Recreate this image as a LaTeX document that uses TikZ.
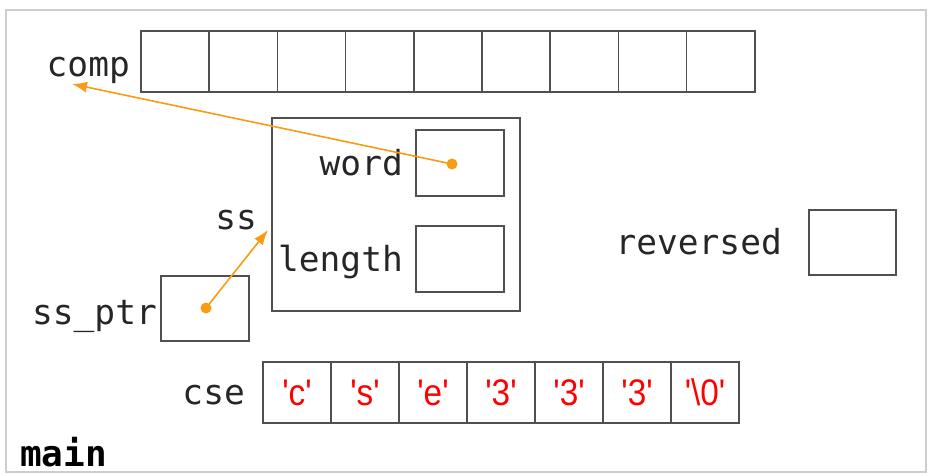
\documentclass[tikz,border=0pt]{standalone}
\usepackage{fontspec}
\setmonofont{DejaVu Sans Mono}
\newfontfamily\charfont[FakeStretch=0.9]{Liberation Sans}
\usetikzlibrary{arrows.meta,calc}
\definecolor{ptrorange}{RGB}{250,155,20}
\definecolor{boxgray}{RGB}{80,80,80}
\definecolor{framegray}{RGB}{205,205,205}
\tikzset{
  cell/.style={draw=boxgray, line width=1.5pt, minimum width=68.2pt, minimum height=61pt, inner sep=0pt, outer sep=0pt},
  var/.style={font=\ttfamily\fontsize{34.5}{36}\selectfont, text=black!85, inner sep=0pt},
  chr/.style={cell, font=\charfont\fontsize{37}{38}\selectfont, text=red},
  ptr/.style={draw=ptrorange, line width=1.6pt, -{Latex[length=15pt,width=11pt]}},
  ptrdot/.style={circle, fill=ptrorange, minimum size=11pt, inner sep=0pt}
}
\begin{document}
\begin{tikzpicture}[x=1pt,y=-1pt]
\useasboundingbox (0,0) rectangle (934,474);
% stack frame
\draw[framegray, line width=2.5pt] (6,10) -- (926,10) -- (926,472) -- (6,472) -- cycle;
\node[var, anchor=base west, font=\ttfamily\bfseries\fontsize{36}{38}\selectfont, text=black] (main) at (20,466) {main};

% comp: array of nine cells
\foreach \i in {1,...,9}
  \node[cell] (comp\i) at ({141+68.2*(\i-0.5)},61.5) {};
\node[var, anchor=base east] (complbl) at (130,76) {comp};

% struct ss with its two fields
\node[draw=boxgray, line width=1.5pt, minimum width=248pt, minimum height=193pt, inner sep=0pt] (ssbox) at (396,214.5) {};
\node[var, anchor=base east] (sslbl) at (257,229) {ss};
\node[draw=boxgray, line width=1.5pt, minimum width=88pt, minimum height=66pt, inner sep=0pt] (wordbox) at (460,163) {};
\node[var, anchor=base east] (wordlbl) at (403,175) {word};
\node[draw=boxgray, line width=1.5pt, minimum width=88pt, minimum height=66pt, inner sep=0pt] (lenbox) at (460,259) {};
\node[var, anchor=base east] (lenlbl) at (403,271) {length};

% ss_ptr
\node[draw=boxgray, line width=1.5pt, minimum width=88pt, minimum height=65pt, inner sep=0pt] (ptrbox) at (205,308.5) {};
\node[var, anchor=base east] (ptrlbl) at (157,324) {ss\_ptr};

% reversed
\node[draw=boxgray, line width=1.5pt, minimum width=87pt, minimum height=65pt, inner sep=0pt] (revbox) at (852.5,242.5) {};
\node[var, anchor=base east] (revlbl) at (782,254) {reversed};

% cse: character array
\foreach \c [count=\i] in {'c','s','e','3','3','3','\textbackslash 0'}
  \node[chr] (cse\i) at ({263+68*(\i-0.5)},392.5) {\c};
\node[var, anchor=base east] (cselbl) at (245,404) {cse};

% pointers
\node[ptrdot] (worddot) at (452,164) {};
\coordinate (compend) at (72,84);
\draw[ptr] (worddot.center) -- (compend);
\node[ptrdot] (ptrdot) at (206,308) {};
\coordinate (ssend) at (268,230);
\draw[ptr] (ptrdot.center) -- (ssend);
\end{tikzpicture}
\end{document}
